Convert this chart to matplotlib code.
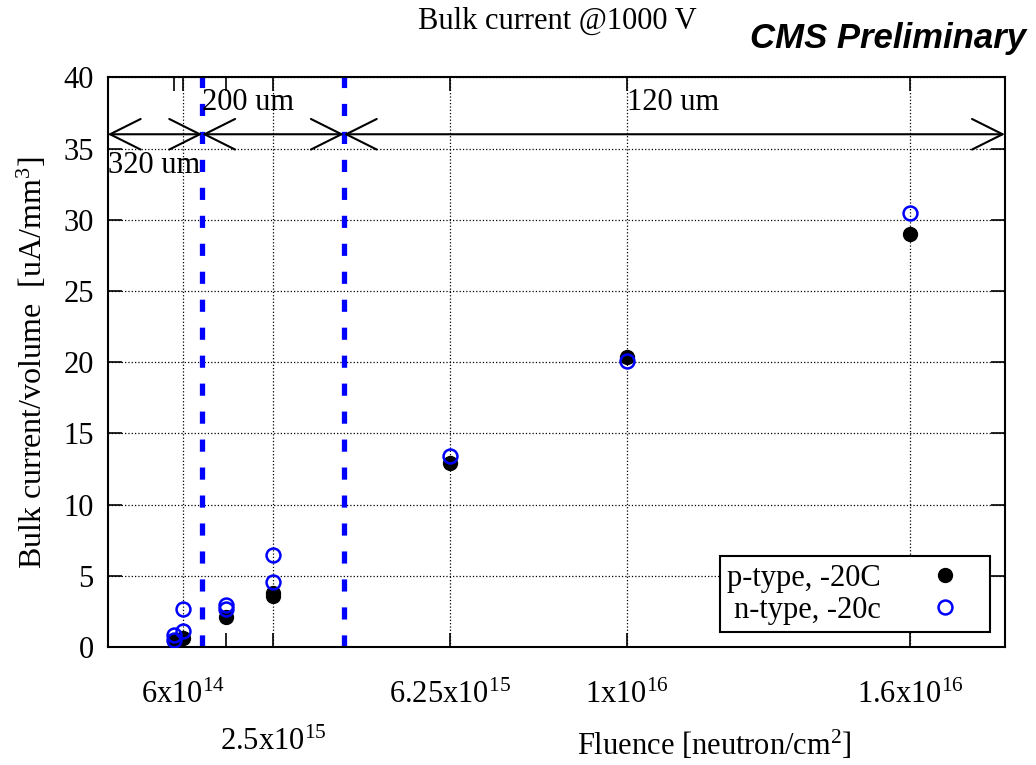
import matplotlib.pyplot as plt
from matplotlib.ticker import FixedLocator

plt.rcParams['font.family'] = ['Liberation Serif', 'DejaVu Serif']
plt.rcParams['mathtext.fontset'] = 'custom'
plt.rcParams['mathtext.rm'] = 'Liberation Serif'
plt.rcParams['mathtext.default'] = 'regular'

# Data (fluence in neutron/cm^2, bulk current per volume in uA/mm^3)
p_fluence = [4e14, 6e14, 1.5e15, 2.5e15, 2.5e15, 6.25e15, 1e16, 1.6e16]
p_current = [0.45, 0.65, 2.15, 3.6, 3.8, 12.9, 20.4, 29.0]
n_fluence = [4e14, 4e14, 6e14, 6e14, 1.5e15, 1.5e15, 2.5e15, 2.5e15, 6.25e15, 1e16, 1.6e16]
n_current = [0.5, 0.85, 1.15, 2.7, 2.7, 2.95, 4.6, 6.5, 13.4, 20.1, 30.5]

tick_pos = [6e14, 2.5e15, 6.25e15, 1e16, 1.6e16]
tick_labels = ['6x10$^{14}$', '2.5x10$^{15}$', '6.25x10$^{15}$', '1x10$^{16}$', '1.6x10$^{16}$']
minor_pos = [4e14, 1.5e15]

# thickness regions
borders = [1e15, 4e15]
regions = [(-1e15, 1e15), (1e15, 4e15), (4e15, 1.8e16)]

fs = 22
fig = plt.figure(figsize=(10.36, 7.65), dpi=100)
ax = fig.add_axes([0.104, 0.154, 0.866, 0.745])

ax.set_xlim(-1e15, 1.8e16)
ax.set_ylim(0, 40)

for b in borders:
    ax.plot([b, b], [0, 40], color='blue', lw=3.8, ls=(0, (2.3, 3.0)), zorder=2)

for x0, x1 in regions:
    ax.annotate('', xy=(x1, 36), xytext=(x0, 36),
                arrowprops=dict(arrowstyle='<->,head_length=1.1,head_width=0.55',
                                color='black', lw=1.5, mutation_scale=20,
                                shrinkA=0, shrinkB=0))
ax.text(-1e15, 34.8, '320 um', fontsize=fs, ha='left', va='top')
ax.text(1.0e15, 37.2, '200 um', fontsize=fs, ha='left', va='bottom')
ax.text(1e16, 37.2, '120 um', fontsize=fs, ha='left', va='bottom')

ax.plot(p_fluence, p_current, 'o', color='black', ms=10, ls='none',
        label='p-type, -20C', zorder=4)
ax.plot(n_fluence, n_current, 'o', mfc='none', mec='blue', mew=1.8, ms=10,
        ls='none', label='n-type, -20c', zorder=5)

ax.set_xticks(tick_pos)
ax.set_xticklabels(tick_labels, fontsize=fs)
ax.xaxis.set_minor_locator(FixedLocator(minor_pos))
ax.set_yticks(range(0, 41, 5))
ax.tick_params(axis='y', labelsize=fs)
ax.tick_params(which='both', direction='in', top=True, right=True,
               length=10, width=1.2)
ax.tick_params(axis='x', which='major', pad=24)
ax.xaxis.get_major_ticks()[1].set_pad(58)  # 2.5x10^15 label sits lower
ax.tick_params(axis='y', pad=10)

ax.grid(True, which='major', color='black', ls=':', lw=0.9)
for s in ax.spines.values():
    s.set_linewidth(1.5)

ax.set_ylabel('Bulk current/volume  [uA/mm$^3$]', fontsize=23, labelpad=10)
fig.text(0.69, 0.026, 'Fluence [neutron/cm$^2$]', fontsize=fs, ha='center', va='center')
fig.text(0.538, 0.972, 'Bulk current @1000 V', fontsize=fs, ha='center', va='center')
fig.text(0.99, 0.95, 'CMS Preliminary', fontsize=25, ha='right', va='center',
         family='Liberation Sans', weight='bold', style='italic')

leg = ax.legend(loc='lower right', bbox_to_anchor=(0.983, 0.026), borderaxespad=0,
                fontsize=fs, markerfirst=False, fancybox=False, framealpha=1,
                edgecolor='black', handletextpad=0.9, handlelength=2.4,
                borderpad=0.25, labelspacing=0.1)
leg.get_frame().set_linewidth(1.5)

fig.savefig('out.png', dpi=100)
